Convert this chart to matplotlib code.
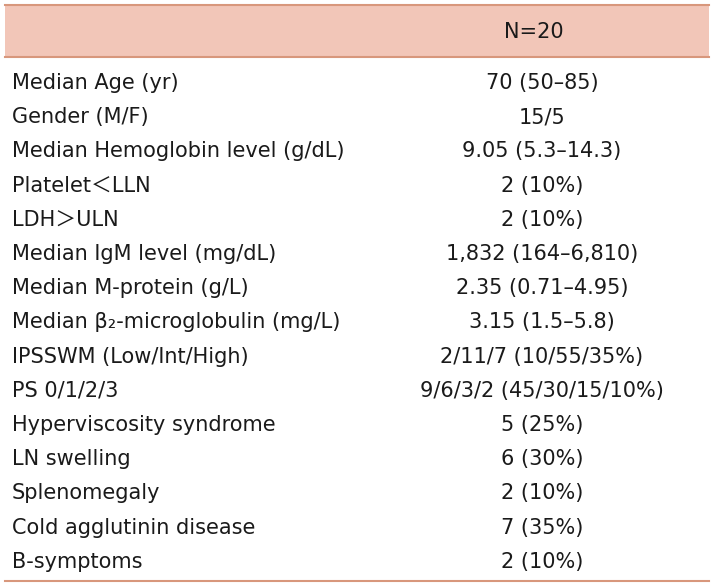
import matplotlib.pyplot as plt

header = "N=20"
labels = ["Median Age (yr)", "Gender (M/F)", "Median Hemoglobin level (g/dL)",
          "Platelet\uff1cLLN", "LDH\uff1eULN", "Median IgM level (mg/dL)",
          "Median M-protein (g/L)", "Median β₂-microglobulin (mg/L)",
          "IPSSWM (Low/Int/High)", "PS 0/1/2/3", "Hyperviscosity syndrome",
          "LN swelling", "Splenomegaly", "Cold agglutinin disease", "B-symptoms"]
values = ["70 (50\u201385)", "15/5", "9.05 (5.3\u201314.3)", "2 (10%)", "2 (10%)",
          "1,832 (164\u20136,810)", "2.35 (0.71\u20134.95)", "3.15 (1.5\u20135.8)",
          "2/11/7 (10/55/35%)", "9/6/3/2 (45/30/15/10%)", "5 (25%)", "6 (30%)",
          "2 (10%)", "7 (35%)", "2 (10%)"]

fam = ['DejaVu Sans', 'Noto Sans CJK SC']
line_c = '#d8977c'
fill_c = '#f2c6b8'
txt_c = '#1a1a1a'
fs = 15

fig = plt.figure(figsize=(7.14, 5.88), dpi=100)
ax = fig.add_axes([0, 0, 1, 1])
ax.set_xlim(0, 714)
ax.set_ylim(588, 0)
ax.axis('off')

ax.fill_between([5, 709], 5, 56, color=fill_c, lw=0)
ax.plot([5, 709], [5, 5], color=line_c, lw=1.5)
ax.plot([5, 709], [56.5, 56.5], color=line_c, lw=1.5)
ax.plot([5, 709], [581, 581], color=line_c, lw=1.5)

# baseline placement so every row sits on the same line
ax.text(534, 38, header, ha='center', va='baseline', fontsize=fs, family=fam, color=txt_c)

y0, dy = 89, 34.2
for i, (lab, val) in enumerate(zip(labels, values)):
    y = y0 + i * dy
    ax.text(12, y, lab, ha='left', va='baseline', fontsize=fs, family=fam, color=txt_c)
    ax.text(542, y, val, ha='center', va='baseline', fontsize=fs, family=fam, color=txt_c)

fig.savefig('out.png', dpi=100, facecolor='white')
